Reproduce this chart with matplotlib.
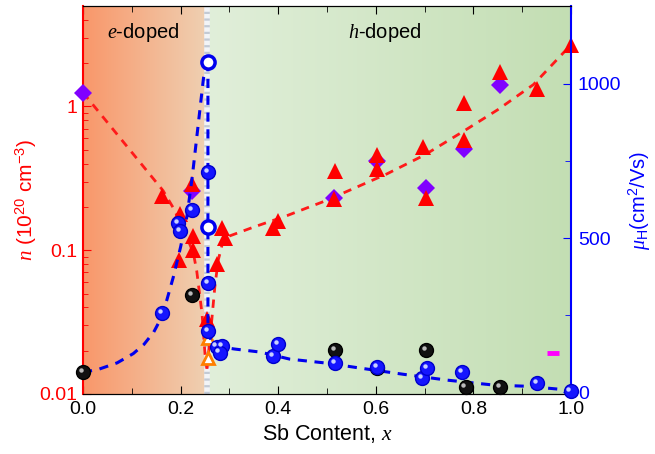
import numpy as np
import matplotlib
matplotlib.use("Agg")
import matplotlib.pyplot as plt
from matplotlib.colors import LinearSegmentedColormap
from matplotlib.transforms import offset_copy

plt.rcParams["font.family"] = ["Liberation Sans", "DejaVu Sans"]
plt.rcParams["mathtext.fontset"] = "custom"
plt.rcParams["mathtext.rm"] = "Liberation Sans"
plt.rcParams["mathtext.it"] = "Liberation Serif:italic"

# carrier density n (10^20 cm^-3), left axis
tri_x = [0.162, 0.199, 0.196, 0.224, 0.226, 0.226, 0.254, 0.275, 0.285, 0.291,
         0.39, 0.40, 0.517, 0.515, 0.602, 0.602, 0.697, 0.703, 0.78, 0.781,
         0.855, 0.931, 1.0]
tri_n = [0.24, 0.18, 0.085, 0.29, 0.126, 0.10, 0.033, 0.08, 0.143, 0.122,
         0.143, 0.16, 0.355, 0.227, 0.458, 0.37, 0.52, 0.23, 1.05, 0.58,
         1.75, 1.33, 2.69]
dia_x = [0.0, 0.224, 0.515, 0.602, 0.703, 0.781, 0.855]
dia_n = [1.25, 0.26, 0.23, 0.42, 0.27, 0.51, 1.42]
open_tri_x = [0.256, 0.256]
open_tri_n = [0.0245, 0.0178]

# red guide curves
red_left_x = [0.0, 0.164, 0.185, 0.205, 0.226, 0.233, 0.244, 0.25, 0.254]
red_left_n = [1.25, 0.26, 0.197, 0.143, 0.096, 0.072, 0.036, 0.019, 0.015]
red_right_x = [0.254, 0.264, 0.27, 0.277, 0.287, 0.29, 0.35, 0.418, 0.459,
               0.496, 0.623, 0.70, 0.779, 0.85, 0.923, 1.0]
red_right_n = [0.015, 0.033, 0.055, 0.085, 0.116, 0.122, 0.145, 0.174, 0.197,
               0.22, 0.34, 0.46, 0.67, 0.95, 1.42, 2.69]

# Hall mobility (cm^2/Vs), right axis
blue_x = [0.162, 0.195, 0.199, 0.223, 0.256, 0.256, 0.256, 0.274, 0.285, 0.28,
          0.39, 0.40, 0.517, 0.602, 0.695, 0.705, 0.777, 0.931, 0.999]
blue_mu = [256, 549, 522, 591, 714, 354, 198, 148, 150, 128,
           117, 157, 94, 81, 45, 78, 65, 29, 3]
open_x = [0.256, 0.256]
open_mu = [1071, 536]
black_x = [0.0, 0.224, 0.517, 0.602, 0.703, 0.784, 0.855]
black_mu = [65, 315, 136, 78, 136, 16, 16]
pink_x = [0.964]
pink_mu = [127]

# blue guide curves
blue_left_x = [0.0, 0.03, 0.07, 0.103, 0.125, 0.145, 0.158, 0.172, 0.185,
               0.2, 0.213, 0.224, 0.247, 0.256]
blue_left_mu = [65, 73, 95, 125, 155, 195, 234, 300, 373,
                471, 570, 700, 1020, 1071]
blue_right_x = [0.256, 0.256, 0.262, 0.27, 0.31, 0.363, 0.424, 0.5, 0.568,
                0.656, 0.746, 0.841, 0.91, 1.0]
blue_right_mu = [1071, 200, 170, 150, 140, 130, 107, 94, 78, 58, 39, 23, 19, 6]

x_split = 0.254

fig = plt.figure(figsize=(6.55, 4.54), dpi=100)
ax = fig.add_axes([0.1267, 0.1322, 0.7451, 0.8546])

# background gradients
orange = LinearSegmentedColormap.from_list("o", ["#F9976A", "#EFD0B2"])
green = LinearSegmentedColormap.from_list("g", ["#E1EFDA", "#C3DEB3"])
grad = np.linspace(0, 1, 256).reshape(1, -1)
ax.imshow(grad, cmap=orange, aspect="auto", extent=[0, x_split, 0, 1],
          transform=ax.transAxes, zorder=0)
ax.imshow(grad, cmap=green, aspect="auto", extent=[x_split, 1, 0, 1],
          transform=ax.transAxes, zorder=0)
ax.axvline(x_split, color="#f2f4f7", lw=4, zorder=1)
ax.axvline(x_split, color="#c3cad4", lw=4, ls=(0, (0.4, 0.8)), zorder=1)

ax.set_yscale("log")
ax.plot(red_left_x, red_left_n, "--", color="#ff1a1a", lw=2, dashes=(3, 2.5), zorder=2)
ax.plot(red_right_x, red_right_n, "--", color="#ff1a1a", lw=2, dashes=(3, 2.5), zorder=2)
ax.plot(dia_x, dia_n, "D", color="#8000ff", ms=9.5, mew=0, zorder=3, clip_on=False)
ax.plot(tri_x, tri_n, "^", color="#ff0000", ms=12, mew=0, zorder=4, clip_on=False)
ax.plot(open_tri_x, open_tri_n, "^", mfc="white", mec="#ff7f00", ms=9, mew=2, zorder=4)

ax.set_xlim(0, 1)
ax.set_ylim(0.01, 5)
ax.set_yticks([0.01, 0.1, 1])
ax.set_yticklabels(["0.01", "0.1", "1"])
ax.set_xticks([0, 0.2, 0.4, 0.6, 0.8, 1.0])
ax.set_xticks(np.arange(0.1, 1.0, 0.2), minor=True)
ax.tick_params(axis="x", which="both", direction="in", top=True, labelsize=14, pad=5)
ax.tick_params(axis="x", which="major", length=6)
ax.tick_params(axis="x", which="minor", length=4)
ax.tick_params(axis="y", which="both", direction="in", colors="red", labelsize=14, pad=4)
ax.tick_params(axis="y", which="major", length=6)
ax.tick_params(axis="y", which="minor", length=3.5)
ax.spines["left"].set_color("red")
ax.spines["left"].set_linewidth(1.5)
ax.spines["right"].set_visible(False)
ax.set_xlabel("Sb Content, $x$", fontsize=15.5, labelpad=3)
ax.set_ylabel("$n$ (10$^{20}$ cm$^{-3}$)", color="red", fontsize=15, labelpad=0)

ax.text(0.05, 0.932, "$e$-doped", transform=ax.transAxes, fontsize=14.5,
        va="center", ha="left")
ax.text(0.542, 0.932, "$h$-doped", transform=ax.transAxes, fontsize=14.5,
        va="center", ha="left")

ax2 = ax.twinx()
ax2.patch.set_visible(False)
ax2.plot(blue_left_x, blue_left_mu, "--", color="#0000ee", lw=2.2, dashes=(3, 2.5), zorder=2)
ax2.plot(blue_right_x, blue_right_mu, "--", color="#0000ee", lw=2.2, dashes=(3, 2.5), zorder=2)

hl = offset_copy(ax2.transData, fig=fig, x=-1.6, y=1.6, units="points")
ax2.plot(black_x, black_mu, "o", color="#111111", mec="#000000", ms=10, zorder=3, clip_on=False)
ax2.plot(black_x, black_mu, "o", color="#bbbbbb", ms=3.2, mew=0, transform=hl, zorder=3, clip_on=False)
ax2.plot(blue_x, blue_mu, "o", color="#1515ff", mec="#0000cc", ms=10, zorder=4, clip_on=False)
ax2.plot(blue_x, blue_mu, "o", color="#c8d0ff", ms=3.2, mew=0, transform=hl, zorder=4, clip_on=False)
ax2.plot(open_x, open_mu, "o", mfc="white", mec="#0000ee", ms=9.5, mew=2.5, zorder=5)
ax2.plot(pink_x, pink_mu, "_", color="#ff00ff", ms=8, mew=3.5, zorder=5)

ax2.set_xlim(0, 1)
ax2.set_ylim(-6, 1253)
ax2.set_yticks([0, 500, 1000])
ax2.set_yticks([250, 750], minor=True)
ax2.tick_params(axis="y", which="both", direction="in", colors="blue", labelsize=14, pad=5)
ax2.tick_params(axis="y", which="major", length=6)
ax2.tick_params(axis="y", which="minor", length=4)
ax2.spines["right"].set_color("blue")
ax2.spines["right"].set_linewidth(1.5)
ax2.spines["left"].set_visible(False)
ax2.set_ylabel("$\\mu_{\\rm H}$(cm$^2$/Vs)", color="blue", fontsize=14.5, labelpad=4)

fig.savefig("out.png", dpi=100)
